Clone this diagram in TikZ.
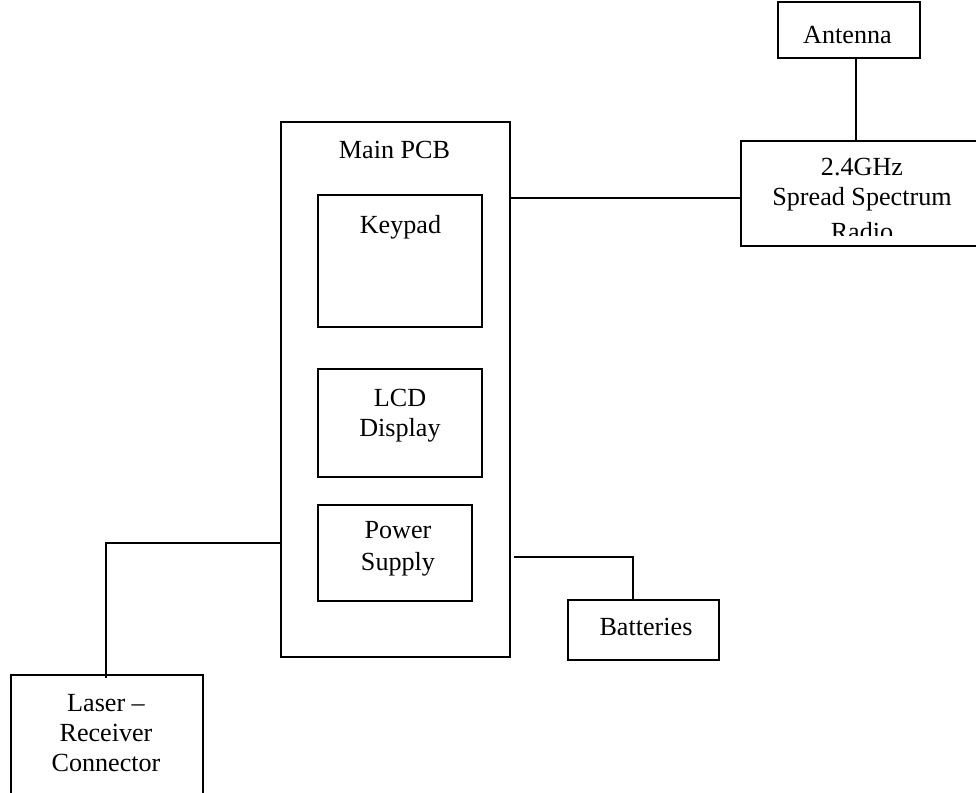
\documentclass[tikz,border=0pt]{standalone}
\usepackage{fontspec}
\setmainfont{Liberation Serif}
\tikzset{
  box/.style={draw=black,line width=1.25pt,minimum width=0pt,inner sep=0pt},
  lab/.style={inner sep=0pt,align=center,font=\fontsize{19.6pt}{22.5pt}\selectfont},
  wire/.style={draw=black,line width=1.25pt},
}
\begin{document}
\begin{tikzpicture}[x=0.75pt,y=-0.75pt]
\useasboundingbox (0,0) rectangle (976,793);
\draw[box] (281,122) rectangle (510,657);
\draw[box] (318,195) rectangle (482,327);
\draw[box] (318,369) rectangle (482,477);
\draw[box] (318,505) rectangle (472,601);
\draw[box] (778,2) rectangle (920,58);
\draw[box] (741,141) rectangle (979,246);
\draw[box] (568,600) rectangle (719,660);
\draw[box] (11,675) rectangle (203,796);
\coordinate (pcbR) at (510,198);
\coordinate (radioL) at (741,198);
\coordinate (antB) at (856,58);
\coordinate (radioT) at (856,141);
\coordinate (pcbL) at (281,543);
\coordinate (laserT) at (106,678);
\coordinate (pcbB) at (514,557);
\coordinate (batT) at (633,600);
\draw[wire] (pcbR) -- (radioL);
\draw[wire] (antB) -- (radioT);
\draw[wire] (pcbL) -- (106,543) -- (laserT);
\draw[wire] (pcbB) -- (633,557) -- (batT);
\node[lab] (t1) at (394.5,149.5) {Main PCB};
\node[lab] (t2) at (400.5,227) {Keypad};
\node[lab] (t3) at (400,416) {LCD\\Display};
\node[lab] (t4) at (398,549) {Power\\[1.5pt]Supply};
\node[lab] (t5) at (847.5,35) {Antenna};
\begin{scope}
\clip (742,142) rectangle (975,235);
\node[lab] (t6) at (862,199.5) {2.4GHz\\Spread Spectrum\\[3.75pt]Radio};
\end{scope}
\node[lab] (t7) at (646,627) {Batteries};
\node[lab] (t8) at (106,733) {Laser –\\Receiver\\Connector};
\end{tikzpicture}
\end{document}
